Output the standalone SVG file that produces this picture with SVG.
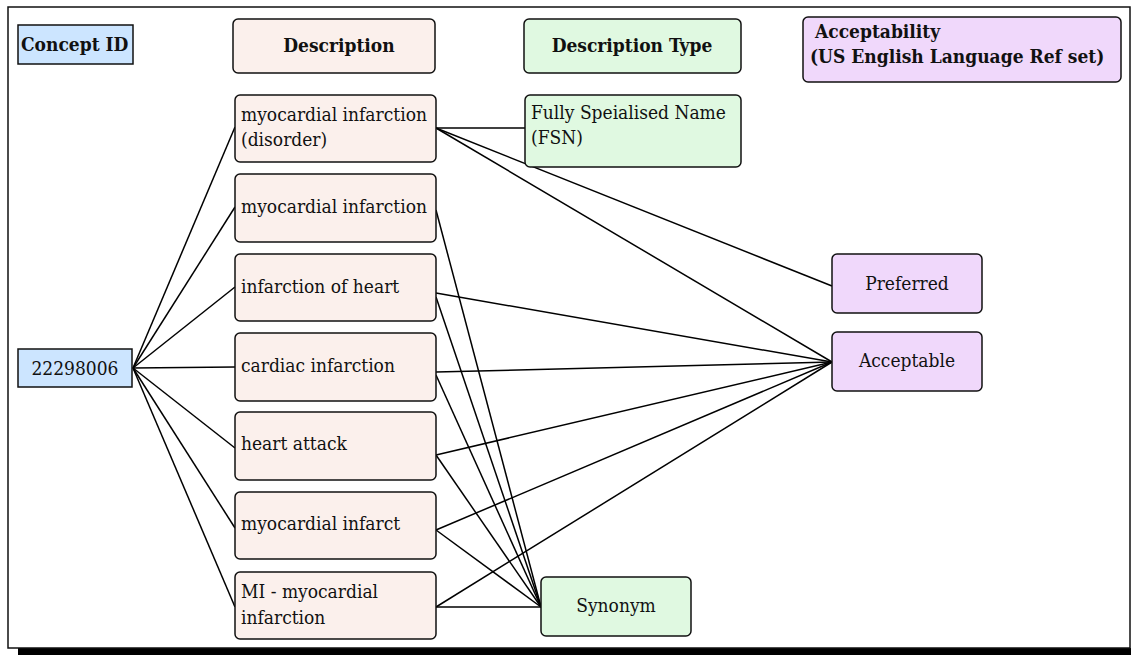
<svg xmlns="http://www.w3.org/2000/svg" width="1131" height="655" viewBox="0 0 1131 655">
<style>
.t{font-family:"DejaVu Serif","Liberation Serif",serif;font-size:19px;font-stretch:condensed;fill:#111}
.b{font-weight:bold}
.c{text-anchor:middle}
.id{fill:#cce5ff;stroke:#111;stroke-width:1.5}
.ds{fill:#fbf0ec;stroke:#111;stroke-width:1.5}
.gr{fill:#e0f9e1;stroke:#111;stroke-width:1.5}
.pu{fill:#f0d8fb;stroke:#111;stroke-width:1.5}
#edges line{stroke:#000;stroke-width:1.5}
</style>
<rect x="0" y="0" width="1131" height="655" fill="#fff"/>
<rect x="18" y="648" width="1120" height="10" fill="#000"/>
<rect x="8" y="7" width="1122" height="641" fill="#fff" stroke="#111" stroke-width="1.5"/>
<g id="edges">
<line x1="133" y1="368" x2="235" y2="127"/>
<line x1="133" y1="368" x2="235" y2="207"/>
<line x1="133" y1="368" x2="235" y2="287"/>
<line x1="133" y1="368" x2="235" y2="367"/>
<line x1="133" y1="368" x2="235" y2="448"/>
<line x1="133" y1="368" x2="235" y2="528"/>
<line x1="133" y1="368" x2="235" y2="607"/>
<line x1="436" y1="128" x2="525" y2="128"/>
<line x1="436" y1="128" x2="832" y2="286"/>
<line x1="436" y1="128" x2="832" y2="362"/>
<line x1="436" y1="210" x2="541" y2="607"/>
<line x1="436" y1="293" x2="832" y2="362"/>
<line x1="436" y1="297" x2="541" y2="607"/>
<line x1="436" y1="372" x2="832" y2="362"/>
<line x1="436" y1="375" x2="541" y2="607"/>
<line x1="436" y1="455" x2="832" y2="362"/>
<line x1="436" y1="455" x2="541" y2="607"/>
<line x1="436" y1="530" x2="832" y2="362"/>
<line x1="436" y1="530" x2="541" y2="607"/>
<line x1="436" y1="607" x2="832" y2="362"/>
<line x1="436" y1="607" x2="541" y2="607"/>
</g>
<g id="h-concept"><rect class="id" x="18" y="25" width="115" height="39"/><text class="t b" x="21" y="51">Concept ID</text></g>
<g id="h-desc"><rect class="ds" x="233" y="19" width="202" height="54" rx="5"/><text class="t b c" x="339" y="52">Description</text></g>
<g id="h-type"><rect class="gr" x="524" y="19" width="217" height="54" rx="5"/><text class="t b c" x="632" y="52">Description Type</text></g>
<g id="h-acc"><rect class="pu" x="803" y="17" width="318" height="65" rx="5"/><text class="t b" x="815" y="38">Acceptability</text><text class="t b" x="810" y="63">(US English Language Ref set)</text></g>
<g id="concept"><rect class="id" x="18" y="349" width="114" height="38"/><text class="t c" x="75" y="375">22298006</text></g>
<g id="d1"><rect class="ds" x="235" y="95" width="201" height="67" rx="5"/><text class="t" x="241" y="121">myocardial infarction</text><text class="t" x="241" y="146">(disorder)</text></g>
<g id="d2"><rect class="ds" x="235" y="174" width="201" height="68" rx="5"/><text class="t" x="241" y="213">myocardial infarction</text></g>
<g id="d3"><rect class="ds" x="235" y="254" width="201" height="67" rx="5"/><text class="t" x="241" y="293">infarction of heart</text></g>
<g id="d4"><rect class="ds" x="235" y="333" width="201" height="68" rx="5"/><text class="t" x="241" y="372">cardiac infarction</text></g>
<g id="d5"><rect class="ds" x="235" y="412" width="201" height="68" rx="5"/><text class="t" x="241" y="450">heart attack</text></g>
<g id="d6"><rect class="ds" x="235" y="492" width="201" height="67" rx="5"/><text class="t" x="241" y="530">myocardial infarct</text></g>
<g id="d7"><rect class="ds" x="235" y="572" width="201" height="67" rx="5"/><text class="t" x="241" y="598">MI - myocardial</text><text class="t" x="241" y="624">infarction</text></g>
<g id="fsn"><rect class="gr" x="525" y="95" width="216" height="72" rx="5"/><text class="t" x="531" y="119">Fully Speialised Name</text><text class="t" x="531" y="144">(FSN)</text></g>
<g id="syn"><rect class="gr" x="541" y="577" width="150" height="59" rx="5"/><text class="t c" x="616" y="612">Synonym</text></g>
<g id="pref"><rect class="pu" x="832" y="254" width="150" height="59" rx="5"/><text class="t c" x="907" y="290">Preferred</text></g>
<g id="acc"><rect class="pu" x="832" y="332" width="150" height="59" rx="5"/><text class="t c" x="907" y="367">Acceptable</text></g>
</svg>
